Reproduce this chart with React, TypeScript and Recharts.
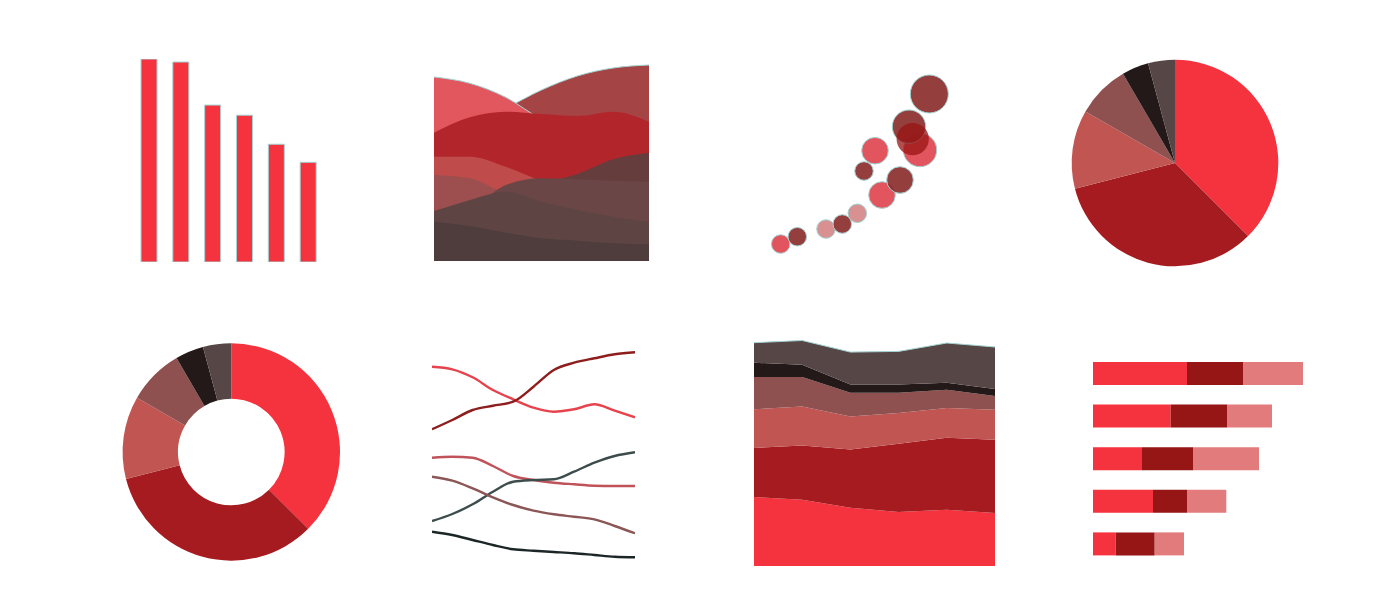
import React from 'react';
import {
  BarChart,
  Bar,
  AreaChart,
  Area,
  ScatterChart,
  Scatter,
  PieChart,
  Pie,
  Cell,
  LineChart,
  Line,
  XAxis,
  YAxis,
  ZAxis,
} from 'recharts';

// 描边颜色（原图边缘的浅青色）
const OUTLINE = '#a3d3d3';

// 调色板
const RED = '#f5333f';
const DARK_RED = '#a51b1f';
const ROSE = '#c05552';
const MUTED = '#8f5050';
const BLACK = '#231918';
const GRAY_BROWN = '#574646';

// 1. 柱状图
const barCategories = ['A', 'B', 'C', 'D', 'E', 'F'];
const barValues = [100, 98.5, 77.3, 72.3, 58, 49.1];

// 2. 重叠面积（流）
const streamX = ['1', '2', '3', '4', '5', '6', '7'];
const streamBrown = [134, 139, 153, 171, 185, 193, 196];
const streamPink = [184, 177.7, 163.7, 142, 130, 130, 120];
const streamRed = [128.3, 143.7, 149.3, 147, 145, 149.3, 139.3];
const streamRose = [104.3, 104.3, 94.3, 80, 70, 60, 55];
const streamMuted = [86, 82.7, 67.7, 60, 55, 50, 45];
const streamDeep = [50, 60, 70, 78, 87, 101.7, 108.3];
const streamMid = [40, 50, 76, 82.7, 81.7, 80.3, 79.3];
const streamLow = [49.3, 61, 69.3, 59.3, 51, 44.3, 39.3];
const streamBase = [39.3, 35, 28.3, 22.7, 20.3, 17.7, 16.7];

// 3. 气泡图
const bubblesPink = [
  { x: 20.7, y: 16, z: 86 },
  { x: 115, y: 109.3, z: 177 },
  { x: 122, y: 65, z: 177 },
  { x: 160, y: 110, z: 279 },
];
const bubblesLight = [
  { x: 66, y: 31, z: 86 },
  { x: 97.3, y: 46.7, z: 86 },
];
const bubblesDark = [
  { x: 37.3, y: 23.3, z: 86 },
  { x: 82.3, y: 36, z: 86 },
  { x: 104, y: 89, z: 86 },
  { x: 140, y: 80, z: 177 },
  { x: 149, y: 133.3, z: 279 },
  { x: 169.3, y: 166, z: 361 },
];
const bubblesCrimson = [{ x: 152.7, y: 121, z: 260 }];

// 4 & 5. 饼图 / 环形图
const pieNames = ['a', 'b', 'c', 'd', 'e', 'f'];
const pieValues = [37.5, 33.5, 12.3, 8.3, 4.2, 4.2];
const pieColors = [RED, DARK_RED, ROSE, MUTED, BLACK, GRAY_BROWN];

// 6. 折线
const lineX = ['1', '2', '3', '4', '5', '6', '7', '8', '9', '10', '11'];
const lineA = [213.3, 210.7, 202.7, 190, 180.7, 172.3, 168.3, 170.7, 175.7, 169.3, 162.7];
const lineB = [150.7, 160, 170, 174.3, 178.3, 193.3, 210, 217.3, 221.7, 225.7, 227.7];
const lineC = [122.3, 123.3, 122.3, 114, 104, 100, 97.3, 95.7, 94.3, 94, 94];
const lineD = [59, 66, 75.7, 88.3, 98.3, 100, 100.7, 108.3, 117.3, 124, 127.7];
const lineE = [103.3, 99.3, 91.7, 82.7, 75, 69.3, 65.7, 63.3, 60.7, 54, 46.7];
const lineF = [48.3, 45, 40, 35, 30.7, 29.3, 28, 26.7, 25, 23.3, 22.7];

// 7. 堆叠面积
const stackX = ['1', '2', '3', '4', '5', '6'];
const stackRed = [69, 66.3, 58.3, 54, 56.3, 53];
const stackDark = [49, 54.3, 58.3, 68.3, 72, 73.3];
const stackRose = [38.7, 39, 33, 30.7, 29.7, 30];
const stackMuted = [32.3, 29.3, 23.7, 20.3, 18.3, 13.7];
const stackBlack = [14.3, 12.3, 8.3, 8.3, 7, 7];
const stackTop = [20, 24.3, 32.3, 33, 39.7, 42];

// 8. 横向堆叠柱
const hbarCategories = ['1', '2', '3', '4', '5'];
const hbarRed = [94, 77.7, 49, 60, 22.7];
const hbarDark = [56, 56.3, 51, 34, 39];
const hbarPink = [60, 45, 66, 39.3, 29.3];

const noMargin = { top: 0, right: 0, bottom: 0, left: 0 };

function Panel({ left, top, children }: { left: number; top: number; children: React.ReactNode }) {
  return <div style={{ position: 'absolute', left, top }}>{children}</div>;
}

export default function App() {
  const barData = barCategories.map((c, i) => ({ c, v: barValues[i] }));
  const streamData = streamX.map((x, i) => ({
    x,
    brown: streamBrown[i],
    pink: streamPink[i],
    red: streamRed[i],
    rose: streamRose[i],
    muted: streamMuted[i],
    deep: streamDeep[i],
    mid: streamMid[i],
    low: streamLow[i],
    base: streamBase[i],
  }));
  const pieData = pieNames.map((name, i) => ({ name, value: pieValues[i] }));
  const lineData = lineX.map((x, i) => ({
    x,
    a: lineA[i],
    b: lineB[i],
    c: lineC[i],
    d: lineD[i],
    e: lineE[i],
    f: lineF[i],
  }));
  const stackData = stackX.map((x, i) => ({
    x,
    red: stackRed[i],
    dark: stackDark[i],
    rose: stackRose[i],
    muted: stackMuted[i],
    black: stackBlack[i],
    top: stackTop[i],
  }));
  const hbarData = hbarCategories.map((c, i) => ({
    c,
    red: hbarRed[i],
    dark: hbarDark[i],
    pink: hbarPink[i],
  }));

  return (
    <div style={{ position: 'absolute', left: 0, top: 0, width: 1400, height: 600, background: '#fff' }}>
      {/* 柱状图 */}
      <Panel left={133} top={59}>
        <BarChart width={191} height={203} data={barData} margin={noMargin}>
          <XAxis dataKey="c" hide />
          <YAxis domain={[0, 100]} hide />
          <Bar dataKey="v" fill={RED} stroke={OUTLINE} strokeWidth={1} barSize={16} isAnimationActive={false} />
        </BarChart>
      </Panel>

      {/* 重叠面积 */}
      <Panel left={434} top={61}>
        <AreaChart width={215} height={200} data={streamData} margin={noMargin}>
          <XAxis dataKey="x" hide />
          <YAxis domain={[0, 200]} hide />
          <Area type="monotone" dataKey="brown" fill="#a54444" fillOpacity={1} stroke={OUTLINE} strokeWidth={1} isAnimationActive={false} />
          <Area type="monotone" dataKey="pink" fill="#e2565e" fillOpacity={1} stroke={OUTLINE} strokeWidth={1} isAnimationActive={false} />
          <Area type="monotone" dataKey="red" fill="#b2262b" fillOpacity={1} stroke="none" isAnimationActive={false} />
          <Area type="monotone" dataKey="rose" fill="#bf4b4b" fillOpacity={1} stroke="none" isAnimationActive={false} />
          <Area type="monotone" dataKey="muted" fill="#9d4f4f" fillOpacity={1} stroke="none" isAnimationActive={false} />
          <Area type="monotone" dataKey="deep" fill="#653d3d" fillOpacity={1} stroke="none" isAnimationActive={false} />
          <Area type="monotone" dataKey="mid" fill="#6b4646" fillOpacity={1} stroke="none" isAnimationActive={false} />
          <Area type="monotone" dataKey="low" fill="#5f4444" fillOpacity={1} stroke="none" isAnimationActive={false} />
          <Area type="monotone" dataKey="base" fill="#4f3c3c" fillOpacity={1} stroke="none" isAnimationActive={false} />
        </AreaChart>
      </Panel>

      {/* 气泡图 */}
      <Panel left={760} top={60}>
        <ScatterChart width={200} height={200} margin={noMargin}>
          <XAxis type="number" dataKey="x" domain={[0, 200]} hide />
          <YAxis type="number" dataKey="y" domain={[0, 200]} hide />
          <ZAxis type="number" dataKey="z" domain={[0, 400]} range={[0, 400 * Math.PI]} />
          <Scatter data={bubblesPink} fill="#e0434d" fillOpacity={0.9} stroke={OUTLINE} strokeWidth={1} isAnimationActive={false} />
          <Scatter data={bubblesLight} fill="#d68a8a" fillOpacity={0.95} stroke={OUTLINE} strokeWidth={1} isAnimationActive={false} />
          <Scatter data={bubblesDark} fill="#8b2e2e" fillOpacity={0.92} stroke={OUTLINE} strokeWidth={1} isAnimationActive={false} />
          <Scatter data={bubblesCrimson} fill="#9a1414" fillOpacity={0.75} stroke="none" isAnimationActive={false} />
        </ScatterChart>
      </Panel>

      {/* 饼图 */}
      <Panel left={1060} top={50}>
        <PieChart width={230} height={230} margin={noMargin}>
          <Pie
            data={pieData}
            dataKey="value"
            cx={115}
            cy={113}
            outerRadius={103.3}
            startAngle={90}
            endAngle={-270}
            stroke="none"
            isAnimationActive={false}
          >
            {pieData.map((d, i) => (
              <Cell key={d.name} fill={pieColors[i]} />
            ))}
          </Pie>
        </PieChart>
      </Panel>

      {/* 环形图 */}
      <Panel left={110} top={330}>
        <PieChart width={250} height={250} margin={noMargin}>
          <Pie
            data={pieData}
            dataKey="value"
            cx={121.3}
            cy={122}
            innerRadius={53.3}
            outerRadius={108.7}
            startAngle={90}
            endAngle={-270}
            stroke="none"
            isAnimationActive={false}
          >
            {pieData.map((d, i) => (
              <Cell key={d.name} fill={pieColors[i]} />
            ))}
          </Pie>
        </PieChart>
      </Panel>

      {/* 折线 */}
      <Panel left={432} top={340}>
        <LineChart width={203} height={240} data={lineData} margin={noMargin}>
          <XAxis dataKey="x" hide />
          <YAxis domain={[0, 240]} hide />
          <Line type="monotone" dataKey="a" stroke="#e8434d" strokeWidth={2.4} dot={false} isAnimationActive={false} />
          <Line type="monotone" dataKey="b" stroke="#8e1d1d" strokeWidth={2.4} dot={false} isAnimationActive={false} />
          <Line type="monotone" dataKey="c" stroke="#c0525a" strokeWidth={2.4} dot={false} isAnimationActive={false} />
          <Line type="monotone" dataKey="d" stroke="#3d4c4c" strokeWidth={2.4} dot={false} isAnimationActive={false} />
          <Line type="monotone" dataKey="e" stroke="#8b5656" strokeWidth={2.4} dot={false} isAnimationActive={false} />
          <Line type="monotone" dataKey="f" stroke="#1c2626" strokeWidth={2.4} dot={false} isAnimationActive={false} />
        </LineChart>
      </Panel>

      {/* 堆叠面积 */}
      <Panel left={754} top={326}>
        <AreaChart width={241} height={240} data={stackData} margin={noMargin}>
          <XAxis dataKey="x" hide />
          <YAxis domain={[0, 240]} hide />
          <Area type="linear" stackId="s" dataKey="red" fill={RED} fillOpacity={1} stroke="none" isAnimationActive={false} />
          <Area type="linear" stackId="s" dataKey="dark" fill={DARK_RED} fillOpacity={1} stroke="none" isAnimationActive={false} />
          <Area type="linear" stackId="s" dataKey="rose" fill={ROSE} fillOpacity={1} stroke="none" isAnimationActive={false} />
          <Area type="linear" stackId="s" dataKey="muted" fill={MUTED} fillOpacity={1} stroke="none" isAnimationActive={false} />
          <Area type="linear" stackId="s" dataKey="black" fill={BLACK} fillOpacity={1} stroke="none" isAnimationActive={false} />
          <Area type="linear" stackId="s" dataKey="top" fill={GRAY_BROWN} fillOpacity={1} stroke={OUTLINE} strokeWidth={1} isAnimationActive={false} />
        </AreaChart>
      </Panel>

      {/* 横向堆叠柱 */}
      <Panel left={1093} top={352}>
        <BarChart width={221} height={213} data={hbarData} layout="vertical" margin={noMargin}>
          <XAxis type="number" domain={[0, 221]} hide />
          <YAxis type="category" dataKey="c" hide />
          <Bar dataKey="red" stackId="h" fill={RED} barSize={23} isAnimationActive={false} />
          <Bar dataKey="dark" stackId="h" fill="#961515" barSize={23} isAnimationActive={false} />
          <Bar dataKey="pink" stackId="h" fill="#e27b7b" barSize={23} isAnimationActive={false} />
        </BarChart>
      </Panel>
    </div>
  );
}
